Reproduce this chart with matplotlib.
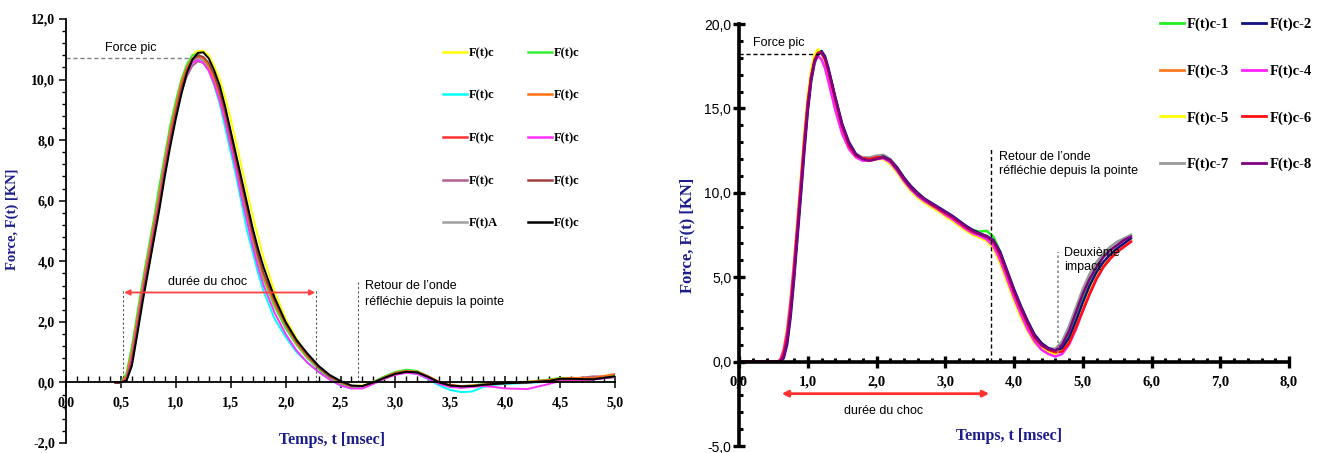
import numpy as np
import matplotlib
matplotlib.use('Agg')
import matplotlib.pyplot as plt
from matplotlib.ticker import MultipleLocator

# ---------------- left chart data (Force vs time, 10 records) ----------------
t_left = [0.45, 0.50, 0.55, 0.60, 0.65, 0.70, 0.75, 0.80, 0.85, 0.90, 0.95, 1.00,
          1.05, 1.10, 1.15, 1.20, 1.25, 1.30, 1.35, 1.40, 1.45, 1.50, 1.55, 1.60,
          1.65, 1.70, 1.75, 1.80, 1.90, 2.00, 2.10, 2.20, 2.30, 2.40, 2.50, 2.60,
          2.70, 2.80, 2.90, 3.00, 3.10, 3.20, 3.30, 3.40, 3.50, 3.60, 3.70, 3.80,
          3.90, 4.00, 4.20, 4.40, 4.50, 4.60, 4.80, 5.00]

f_yellow = [0.0, 0.0, 0.1, 0.8, 1.9, 3.0, 4.0, 5.0, 6.0, 7.1, 8.1, 9.0, 9.8, 10.4, 10.8, 10.95,
            10.95, 10.8, 10.45, 10.0, 9.4, 8.7, 7.9, 7.1, 6.3, 5.5, 4.8, 4.1, 3.0, 2.1, 1.45, 0.9,
            0.5, 0.2, 0.0, -0.12, -0.1, 0.02, 0.18, 0.3, 0.36, 0.32, 0.16, -0.02, -0.12, -0.14,
            -0.12, -0.08, -0.04, -0.02, 0.0, 0.05, 0.1, 0.12, 0.12, 0.22]
f_cyan = [0.0, 0.0, 0.15, 0.9, 2.0, 3.1, 4.1, 5.1, 6.1, 7.2, 8.2, 9.1, 9.8, 10.3, 10.65, 10.75,
          10.6, 10.3, 9.8, 9.2, 8.4, 7.6, 6.8, 5.9, 5.0, 4.3, 3.6, 3.0, 2.1, 1.5, 1.0, 0.65,
          0.35, 0.1, -0.1, -0.2, -0.15, 0.0, 0.15, 0.28, 0.32, 0.28, 0.1, -0.1, -0.25, -0.32,
          -0.3, -0.15, -0.08, -0.05, -0.02, 0.03, 0.08, 0.1, 0.1, 0.18]
f_red = [0.0, 0.0, 0.15, 0.9, 2.0, 3.1, 4.1, 5.1, 6.1, 7.2, 8.2, 9.0, 9.8, 10.3, 10.65, 10.75,
         10.65, 10.4, 9.95, 9.4, 8.7, 7.9, 7.1, 6.3, 5.5, 4.8, 4.1, 3.5, 2.6, 1.85, 1.3, 0.85,
         0.5, 0.2, 0.0, -0.15, -0.15, 0.0, 0.18, 0.3, 0.38, 0.33, 0.18, 0.0, -0.12, -0.15,
         -0.12, -0.08, -0.05, -0.02, 0.0, 0.03, 0.08, 0.05, 0.1, 0.18]
f_mauve = [0.0, 0.0, 0.05, 0.6, 1.7, 2.8, 3.8, 4.8, 5.8, 6.9, 7.9, 8.8, 9.6, 10.1, 10.45, 10.6,
           10.55, 10.3, 9.9, 9.35, 8.7, 7.9, 7.1, 6.3, 5.5, 4.8, 4.1, 3.5, 2.55, 1.8, 1.25, 0.8,
           0.45, 0.15, -0.05, -0.18, -0.15, 0.0, 0.15, 0.28, 0.32, 0.3, 0.15, 0.0, -0.12, -0.15,
           -0.12, -0.08, -0.05, -0.02, 0.0, 0.05, 0.1, 0.12, 0.2, 0.2]
f_grayA = [0.0, 0.0, 0.1, 0.75, 1.85, 2.95, 3.95, 4.95, 5.95, 7.0, 8.0, 8.85, 9.6, 10.2, 10.55, 10.7,
           10.65, 10.4, 10.0, 9.45, 8.8, 8.0, 7.2, 6.4, 5.6, 4.85, 4.15, 3.55, 2.65, 1.9, 1.3, 0.85,
           0.5, 0.2, 0.0, -0.14, -0.14, -0.02, 0.14, 0.28, 0.34, 0.3, 0.15, -0.02, -0.12, -0.16,
           -0.14, -0.1, -0.06, -0.03, 0.0, 0.05, 0.1, 0.12, 0.12, 0.2]
f_green = [0.0, 0.02, 0.3, 1.2, 2.3, 3.4, 4.4, 5.4, 6.5, 7.5, 8.5, 9.3, 10.0, 10.5, 10.8, 10.85,
           10.7, 10.4, 9.9, 9.3, 8.6, 7.8, 7.0, 6.2, 5.4, 4.7, 4.0, 3.4, 2.5, 1.8, 1.25, 0.8,
           0.45, 0.15, -0.05, -0.15, -0.12, 0.02, 0.2, 0.35, 0.42, 0.38, 0.2, 0.0, -0.1, -0.12,
           -0.1, -0.05, -0.02, 0.0, 0.02, 0.1, 0.15, 0.15, 0.12, 0.25]
f_orange = [0.0, 0.0, 0.2, 1.0, 2.1, 3.2, 4.2, 5.2, 6.2, 7.3, 8.3, 9.1, 9.9, 10.4, 10.7, 10.8,
            10.7, 10.45, 10.0, 9.5, 8.8, 8.0, 7.2, 6.4, 5.6, 4.8, 4.1, 3.5, 2.6, 1.9, 1.3, 0.85,
            0.5, 0.2, 0.0, -0.12, -0.12, 0.0, 0.17, 0.32, 0.38, 0.35, 0.2, 0.02, -0.08, -0.12,
            -0.1, -0.07, -0.03, 0.0, 0.02, 0.08, 0.13, 0.15, 0.15, 0.28]
f_magenta = [0.0, 0.0, 0.1, 0.8, 1.9, 3.0, 4.0, 5.0, 6.0, 7.1, 8.1, 8.9, 9.7, 10.2, 10.55, 10.65,
             10.55, 10.3, 9.85, 9.3, 8.6, 7.8, 7.0, 6.1, 5.3, 4.5, 3.8, 3.2, 2.3, 1.6, 1.05, 0.65,
             0.35, 0.1, -0.1, -0.2, -0.2, -0.05, 0.12, 0.25, 0.32, 0.28, 0.12, -0.05, -0.15, -0.18,
             -0.15, -0.12, -0.15, -0.2, -0.22, -0.05, 0.05, 0.08, 0.1, 0.18]
f_brown = [0.0, 0.0, 0.08, 0.7, 1.8, 2.9, 3.9, 4.9, 5.9, 7.0, 8.0, 8.9, 9.7, 10.3, 10.65, 10.8,
           10.75, 10.55, 10.15, 9.6, 8.9, 8.1, 7.3, 6.5, 5.7, 4.9, 4.2, 3.6, 2.7, 1.95, 1.35, 0.9,
           0.5, 0.2, 0.02, -0.12, -0.12, 0.0, 0.16, 0.3, 0.36, 0.33, 0.18, 0.0, -0.1, -0.13,
           -0.12, -0.08, -0.05, -0.02, 0.0, 0.05, 0.1, 0.1, 0.12, 0.2]
f_black = [0.0, 0.0, 0.05, 0.55, 1.6, 2.7, 3.7, 4.7, 5.7, 6.8, 7.8, 8.7, 9.5, 10.2, 10.65, 10.88,
           10.9, 10.7, 10.3, 9.8, 9.1, 8.3, 7.5, 6.7, 5.9, 5.1, 4.4, 3.8, 2.8, 2.0, 1.4, 0.95,
           0.55, 0.25, 0.05, -0.1, -0.12, 0.0, 0.15, 0.28, 0.35, 0.33, 0.18, 0.0, -0.1, -0.13,
           -0.12, -0.08, -0.05, -0.03, 0.0, 0.05, 0.12, 0.12, 0.1, 0.2]

left_series = [f_yellow, f_cyan, f_red, f_mauve, f_grayA,
               f_green, f_orange, f_magenta, f_brown, f_black]
left_labels = ['F(t)c', 'F(t)c', 'F(t)c', 'F(t)c', 'F(t)A',
               'F(t)c', 'F(t)c', 'F(t)c', 'F(t)c', 'F(t)c']
left_colors = ['#ffff00', '#00ffff', '#ff3030', '#b0608e', '#a0a0a0',
               '#33ee33', '#ff7010', '#ff30ff', '#a04040', '#000000']

# ---------------- right chart data (8 records) ----------------
t_right = [0.0, 0.55, 0.60, 0.65, 0.70, 0.75, 0.80, 0.85, 0.90, 0.95, 1.00, 1.05, 1.10,
           1.15, 1.20, 1.25, 1.30, 1.40, 1.50, 1.60, 1.70, 1.80, 1.90, 2.00, 2.10, 2.20,
           2.30, 2.40, 2.50, 2.60, 2.70, 2.80, 2.90, 3.00, 3.10, 3.20, 3.30, 3.40, 3.50,
           3.60, 3.70, 3.80, 3.90, 4.00, 4.10, 4.20, 4.30, 4.40, 4.50, 4.60, 4.70, 4.80,
           4.90, 5.00, 5.10, 5.20, 5.30, 5.40, 5.50, 5.60, 5.70]

r_c1 = [0.0, 0.0, 0.05, 0.5, 1.6, 3.3, 5.5, 8.0, 10.5, 13.1, 15.4, 17.0, 18.0, 18.35, 18.3,
        17.9, 17.2, 15.5, 13.9, 12.8, 12.2, 12.0, 11.95, 12.05, 12.1, 11.9, 11.4, 10.8, 10.3,
        9.9, 9.6, 9.35, 9.1, 8.85, 8.6, 8.3, 8.0, 7.8, 7.7, 7.75, 7.4, 6.5, 5.3, 4.2, 3.2,
        2.3, 1.5, 1.0, 0.75, 0.6, 0.85, 1.6, 2.7, 3.8, 4.8, 5.6, 6.2, 6.6, 6.9, 7.2, 7.5]
r_c3 = [0.0, 0.0, 0.05, 0.4, 1.4, 3.1, 5.3, 7.8, 10.3, 12.9, 15.2, 16.9, 17.9, 18.3, 18.3,
        17.9, 17.2, 15.5, 13.9, 12.8, 12.2, 11.95, 11.9, 12.0, 12.05, 11.85, 11.35, 10.75, 10.25,
        9.85, 9.55, 9.3, 9.05, 8.8, 8.55, 8.25, 7.95, 7.7, 7.5, 7.35, 7.05, 6.2, 5.1, 4.0, 3.0,
        2.1, 1.4, 0.95, 0.7, 0.55, 0.6, 1.1, 2.0, 3.1, 4.1, 5.0, 5.7, 6.2, 6.6, 6.9, 7.2]
r_c5 = [0.0, 0.0, 0.1, 0.8, 2.0, 3.8, 6.0, 8.5, 11.0, 13.6, 15.8, 17.3, 18.2, 18.5, 18.3,
        17.8, 17.0, 15.2, 13.6, 12.6, 12.1, 11.9, 11.9, 12.0, 12.0, 11.7, 11.2, 10.6, 10.1,
        9.7, 9.4, 9.15, 8.9, 8.6, 8.35, 8.05, 7.75, 7.5, 7.35, 7.15, 6.7, 5.8, 4.7, 3.6, 2.6,
        1.8, 1.1, 0.75, 0.55, 0.45, 0.7, 1.3, 2.3, 3.4, 4.4, 5.2, 5.8, 6.3, 6.6, 6.9, 7.2]
r_c7 = [0.0, 0.0, 0.05, 0.45, 1.5, 3.2, 5.4, 7.9, 10.4, 13.0, 15.3, 16.9, 17.9, 18.3, 18.3,
        18.0, 17.3, 15.6, 14.0, 12.9, 12.3, 12.1, 12.1, 12.2, 12.25, 12.0, 11.5, 10.9, 10.35,
        9.95, 9.6, 9.35, 9.1, 8.85, 8.6, 8.3, 8.0, 7.75, 7.55, 7.4, 7.1, 6.3, 5.2, 4.1, 3.1,
        2.2, 1.5, 1.05, 0.8, 0.75, 1.2, 2.1, 3.2, 4.3, 5.2, 5.9, 6.4, 6.8, 7.1, 7.3, 7.5]
r_c2 = [0.0, 0.0, 0.0, 0.2, 1.0, 2.6, 4.8, 7.3, 9.8, 12.4, 14.8, 16.6, 17.7, 18.2, 18.4,
        18.1, 17.4, 15.7, 14.1, 13.0, 12.3, 12.0, 11.95, 12.05, 12.15, 11.95, 11.5, 10.9, 10.4,
        10.0, 9.65, 9.4, 9.15, 8.9, 8.65, 8.35, 8.05, 7.8, 7.6, 7.45, 7.2, 6.5, 5.4, 4.3, 3.3,
        2.4, 1.6, 1.1, 0.8, 0.65, 0.8, 1.4, 2.4, 3.5, 4.5, 5.3, 5.9, 6.35, 6.7, 7.0, 7.3]
r_c4 = [0.0, 0.0, 0.1, 0.7, 1.8, 3.6, 5.8, 8.2, 10.7, 13.2, 15.4, 16.9, 17.8, 18.1, 17.9,
        17.4, 16.6, 14.9, 13.5, 12.6, 12.1, 11.9, 11.9, 12.0, 12.05, 11.8, 11.3, 10.7, 10.2,
        9.8, 9.5, 9.25, 9.0, 8.7, 8.45, 8.15, 7.85, 7.6, 7.45, 7.25, 6.85, 6.0, 4.9, 3.8, 2.8,
        1.9, 1.2, 0.7, 0.45, 0.3, 0.45, 1.0, 1.9, 3.0, 4.0, 4.9, 5.6, 6.1, 6.5, 6.8, 7.1]
r_c6 = [0.0, 0.0, 0.05, 0.5, 1.5, 3.2, 5.4, 7.9, 10.4, 13.0, 15.3, 16.9, 17.9, 18.3, 18.3,
        17.9, 17.2, 15.5, 13.9, 12.8, 12.2, 12.05, 12.0, 12.1, 12.1, 11.9, 11.4, 10.8, 10.3,
        9.9, 9.6, 9.3, 9.05, 8.8, 8.55, 8.25, 7.95, 7.7, 7.55, 7.4, 7.1, 6.3, 5.2, 4.1, 3.1,
        2.2, 1.4, 0.95, 0.7, 0.55, 0.6, 1.1, 2.0, 3.0, 4.0, 4.9, 5.6, 6.1, 6.5, 6.8, 7.1]
r_c8 = [0.0, 0.0, 0.0, 0.3, 1.2, 2.9, 5.1, 7.6, 10.1, 12.7, 15.0, 16.8, 17.8, 18.2, 18.3,
        18.0, 17.3, 15.6, 14.0, 12.9, 12.25, 12.0, 11.9, 12.0, 12.1, 11.9, 11.4, 10.8, 10.3,
        9.9, 9.6, 9.35, 9.1, 8.85, 8.6, 8.3, 8.0, 7.75, 7.55, 7.4, 7.15, 6.4, 5.3, 4.2, 3.2,
        2.3, 1.5, 1.0, 0.75, 0.65, 1.0, 1.8, 2.9, 4.0, 4.9, 5.6, 6.2, 6.6, 6.9, 7.2, 7.4]

right_series = [r_c1, r_c3, r_c5, r_c7, r_c2, r_c4, r_c6, r_c8]
right_labels = ['F(t)c-1', 'F(t)c-3', 'F(t)c-5', 'F(t)c-7',
                'F(t)c-2', 'F(t)c-4', 'F(t)c-6', 'F(t)c-8']
right_colors = ['#22ee22', '#ff7a20', '#ffff00', '#999999',
                '#101080', '#ff22ff', '#ff1010', '#800080']

# ticks
xticks_left = [0.0, 0.5, 1.0, 1.5, 2.0, 2.5, 3.0, 3.5, 4.0, 4.5, 5.0]
yticks_left = [-2.0, 0.0, 2.0, 4.0, 6.0, 8.0, 10.0, 12.0]
xticks_right = [0.0, 1.0, 2.0, 3.0, 4.0, 5.0, 6.0, 7.0, 8.0]
yticks_right = [-5.0, 0.0, 5.0, 10.0, 15.0, 20.0]

NAVY = '#1c1c8c'
SERIF = 'Liberation Serif'
SANS = 'Liberation Sans'


def fr(v):
    return ('%.1f' % v).replace('.', ',')


fig = plt.figure(figsize=(13.27, 4.53), dpi=100)
W, H = 1327.0, 453.0

# ======================= LEFT =======================
ax = fig.add_axes([66 / W, 1 - 443 / H, 549 / W, 424 / H])
ax.set_xlim(0, 5)
ax.set_ylim(-2, 12)
for s in ['top', 'right']:
    ax.spines[s].set_visible(False)
ax.spines['bottom'].set_position(('data', 0))
ax.spines['left'].set_linewidth(1.3)
ax.spines['bottom'].set_linewidth(1.3)

handles = []
for vals, lab, col in zip(left_series, left_labels, left_colors):
    h, = ax.plot(t_left, vals, color=col, lw=1.4, label=lab)
    handles.append(h)
# black on top
handles[-1].set_zorder(3)

ax.set_xticks(xticks_left)
ax.set_xticklabels([fr(v) for v in xticks_left], fontfamily=SERIF, fontweight='bold', fontsize=10)
ax.set_yticks(yticks_left)
ax.set_yticklabels([fr(v) for v in yticks_left], fontfamily=SERIF, fontweight='bold', fontsize=10)
ax.xaxis.set_minor_locator(MultipleLocator(0.1))
ax.yaxis.set_minor_locator(MultipleLocator(0.4))
ax.tick_params(axis='x', which='major', direction='inout', length=8, width=1.1, pad=6)
ax.tick_params(axis='x', which='minor', direction='in', length=4, width=1)
ax.tick_params(axis='y', which='major', direction='out', length=5, width=1.1, pad=3)
ax.tick_params(axis='y', which='minor', direction='out', length=3, width=1)

ax.set_xlabel('Temps, t [msec]', fontfamily=SERIF, fontweight='bold', fontsize=11.5, color=NAVY)
ax.xaxis.set_label_coords(0.485, 0.025)
ax.set_ylabel('Force, F(t) [KN]', fontfamily=SERIF, fontweight='bold', fontsize=10.5, color=NAVY)
ax.yaxis.set_label_coords(-0.0856, 0.528)

# annotations
ax.plot([0, 1.16], [10.72, 10.72], ls=(0, (3, 2)), color='#808080', lw=1)
ax.text(0.59, 11.04, 'Force pic', fontfamily=SANS, fontsize=9, ha='center', va='center')
ax.plot([0.52, 0.52], [0, 3.1], ls=(0, (2, 2)), color='#555555', lw=0.8)
ax.plot([2.28, 2.28], [0, 3.1], ls=(0, (2, 2)), color='#555555', lw=0.8)
ax.annotate('', xy=(0.53, 2.97), xytext=(2.27, 2.97),
            arrowprops=dict(arrowstyle='<|-|>', color='#ff4040', lw=1.3, mutation_scale=8,
                            shrinkA=0, shrinkB=0))
ax.text(1.29, 3.33, 'durée du choc', fontfamily=SANS, fontsize=9, ha='center', va='center')
ax.plot([2.66, 2.66], [0, 3.35], ls=(0, (2, 2)), color='#555555', lw=0.8)
ax.text(2.72, 2.93, 'Retour de l\u2019onde\nréfléchie depuis la pointe', fontfamily=SANS,
        fontsize=9, ha='left', va='center', linespacing=1.45)

leg = ax.legend(handles=handles, ncol=2, loc='upper left', bbox_to_anchor=(443 / W, 1 - 47 / H),
                bbox_transform=fig.transFigure, frameon=False, borderpad=0, borderaxespad=0,
                handlelength=1.9, handletextpad=0.15, columnspacing=2.4, labelspacing=2.45,
                prop={'family': SERIF, 'weight': 'bold', 'size': 9})
for line in leg.get_lines():
    line.set_linewidth(1.8)

# ======================= RIGHT =======================
bx = fig.add_axes([739 / W, 1 - 446 / H, 550 / W, 422 / H])
bx.set_xlim(0, 8)
bx.set_ylim(-5, 20)
for s in ['top', 'right']:
    bx.spines[s].set_visible(False)
bx.spines['bottom'].set_position(('data', 0))
bx.spines['left'].set_linewidth(2.6)
bx.spines['bottom'].set_linewidth(2.6)

rhandles = []
for vals, lab, col in zip(right_series, right_labels, right_colors):
    h, = bx.plot(t_right, vals, color=col, lw=1.8, label=lab)
    rhandles.append(h)

bx.set_xticks(xticks_right)
bx.set_xticklabels([fr(v) for v in xticks_right], fontfamily=SERIF, fontweight='bold', fontsize=10.5)
bx.set_yticks(yticks_right)
bx.set_yticklabels([fr(v) for v in yticks_right], fontfamily=SANS, fontsize=10)
bx.xaxis.set_minor_locator(MultipleLocator(0.2))
bx.yaxis.set_minor_locator(MultipleLocator(1.0))
bx.tick_params(axis='x', which='major', direction='inout', length=8, width=2.4, pad=6)
bx.tick_params(axis='x', which='minor', direction='in', length=3, width=2.2)
bx.tick_params(axis='y', which='major', direction='inout', length=9, width=2.4, pad=1)
bx.tick_params(axis='y', which='minor', direction='in', length=3, width=2.2)

bx.set_xlabel('Temps, t [msec]', fontfamily=SERIF, fontweight='bold', fontsize=11.5, color=NAVY)
bx.xaxis.set_label_coords(0.491, 0.043)
bx.set_ylabel('Force, F(t) [KN]', fontfamily=SERIF, fontweight='bold', fontsize=12, color=NAVY)
bx.yaxis.set_label_coords(-0.080, 0.498)

bx.plot([0, 1.18], [18.2, 18.2], ls=(0, (3, 2)), color='black', lw=1)
bx.text(0.2, 18.9, 'Force pic', fontfamily=SANS, fontsize=9, ha='left', va='center')
bx.plot([3.67, 3.67], [0, 12.65], ls=(0, (3, 2)), color='black', lw=1)
bx.text(3.78, 11.7, 'Retour de l\u2019onde\nréfléchie depuis la pointe', fontfamily=SANS,
        fontsize=9, ha='left', va='center', linespacing=1.3)
bx.annotate('', xy=(0.62, -1.9), xytext=(3.64, -1.9),
            arrowprops=dict(arrowstyle='<|-|>', color='#ff3030', lw=2, mutation_scale=9,
                            shrinkA=0, shrinkB=0))
bx.text(2.1, -2.9, 'durée du choc', fontfamily=SANS, fontsize=9, ha='center', va='center')
bx.plot([4.64, 4.64], [0.5, 6.5], ls=(0, (1.5, 1.5)), color='#888888', lw=1.2)
bx.text(4.73, 6.0, 'Deuxième\nimpact', fontfamily=SANS, fontsize=9, ha='left', va='center',
        linespacing=1.25)

leg2 = bx.legend(handles=rhandles, ncol=2, loc='upper left', bbox_to_anchor=(1160 / W, 1 - 18 / H),
                 bbox_transform=fig.transFigure, frameon=False, borderpad=0, borderaxespad=0,
                 handlelength=1.65, handletextpad=0.2, columnspacing=0.9, labelspacing=2.27,
                 prop={'family': SERIF, 'weight': 'bold', 'size': 10.5})
for line in leg2.get_lines():
    line.set_linewidth(2)

fig.savefig('out.png', dpi=100)
